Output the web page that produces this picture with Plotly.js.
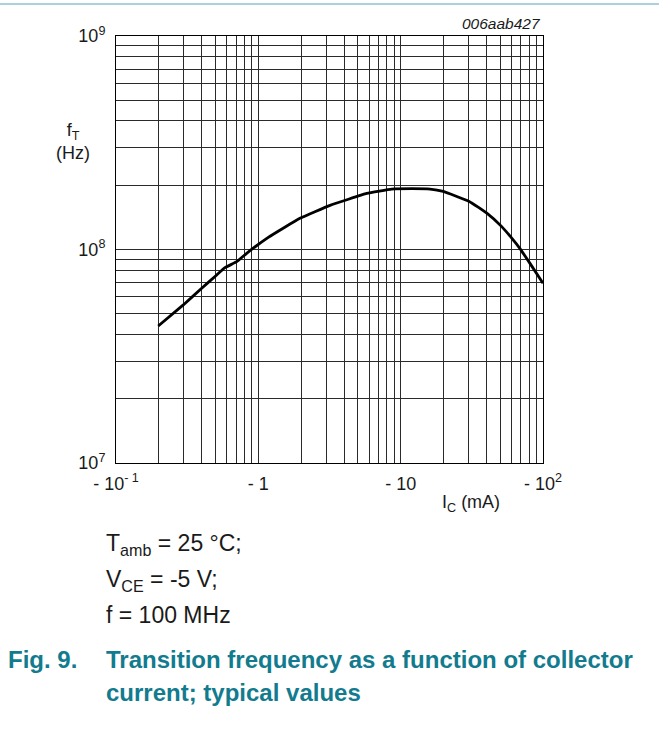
<!DOCTYPE html>
<html>
<head>
<meta charset="utf-8">
<script src="https://cdn.plot.ly/plotly-3.0.1.min.js"></script>
<style>
html,body{margin:0;padding:0;background:#fff;}
#chart{width:659px;height:756px;}
</style>
</head>
<body>
<div id="chart"></div>
<script>
// Data (collector current in mA, transition frequency in Hz)
const currentMA = [0.198, 0.297, 0.40, 0.51, 0.583, 0.705, 0.828, 1.175, 1.96, 3.19, 5.78, 8.65, 12.0, 16.1, 19.9, 30.3, 40.3, 51.3, 60.3, 68.9, 81.0, 100];
const fT_Hz     = [4.38e7, 5.50e7, 6.58e7, 7.60e7, 8.22e7, 8.77e7, 9.60e7, 1.14e8, 1.40e8, 1.61e8, 1.83e8, 1.92e8, 1.93e8, 1.92e8, 1.87e8, 1.68e8, 1.48e8, 1.28e8, 1.13e8, 1.01e8, 8.61e7, 6.95e7];

// Axis decades and their labels
const xDecades = [0.1, 1, 10, 100];
const xDecadeLabels = ['- 10<sup>- 1</sup>', '- 1', '- 10', '- 10<sup>2</sup>'];
const yDecades = [1e7, 1e8, 1e9];
const yDecadeLabels = ['10<sup>7</sup>', '10<sup>8</sup>', '10<sup>9</sup>'];

// Text content
const figId = '006aab427';
const yTitle = 'f<sub>T</sub><br>(Hz)';
const xTitle = 'I<sub>C</sub> (mA)';
const conditions = ['T<sub>amb</sub> = 25 °C;', 'V<sub>CE</sub> = -5 V;', 'f = 100 MHz'];
const figNumber = 'Fig. 9.';
const captionLines = ['Transition frequency as a function of collector', 'current; typical values'];

// Build tick sets (decades labelled, 2..9 unlabelled gridlines)
function buildTicks(decades, labels) {
  const vals = [], text = [];
  decades.forEach((d, i) => {
    vals.push(d); text.push(labels[i]);
    if (i < decades.length - 1) {
      for (let k = 2; k <= 9; k++) { vals.push(d * k); text.push(''); }
    }
  });
  return {vals, text};
}
const xt = buildTicks(xDecades, xDecadeLabels);
const yt = buildTicks(yDecades, yDecadeLabels);

const FONT = 'Liberation Sans, Arial, Helvetica, sans-serif';
const TEAL = '#127b8e';
const INK = '#1a1a1a';

// pixel -> paper helpers (plot area: left 116, right 543, top 36, bottom 463)
const L = 116, R = 543, T = 36, B = 463;
const px = x => (x - L) / (R - L);
const py = y => (B - y) / (B - T);

const annotations = [];
function ann(text, x, y, opts) {
  annotations.push(Object.assign({
    text, x: px(x), y: py(y), xref: 'paper', yref: 'paper',
    showarrow: false, xanchor: 'left', yanchor: 'middle',
    font: {family: FONT, size: 18, color: INK}
  }, opts || {}));
}
ann(figId, R, 24, {xanchor: 'right', font: {family: FONT, size: 15.5, color: INK, style: 'italic'}});
ann(yTitle, 73, 141, {xanchor: 'center'});
ann(xTitle, 471, 503, {xanchor: 'center'});
const condY = [544, 580, 615];
conditions.forEach((c, i) => ann(c, 104, condY[i], {font: {family: FONT, size: 23, color: INK}}));
ann('<b>' + figNumber + '</b>', 6, 659, {font: {family: FONT, size: 24, color: TEAL}});
const capY = [659, 692];
captionLines.forEach((c, i) => ann('<b>' + c + '</b>', 104, capY[i], {font: {family: FONT, size: 24, color: TEAL}}));

const trace = {
  x: currentMA, y: fT_Hz, type: 'scatter', mode: 'lines',
  line: {color: '#000', width: 2.8, shape: 'spline', smoothing: 0.3},
  hoverinfo: 'skip'
};

const axisCommon = {
  type: 'log', tickmode: 'array', showgrid: true, gridcolor: '#2a2a2a', gridwidth: 1,
  showline: true, linecolor: '#000', linewidth: 1, mirror: true, zeroline: false,
  ticks: '', tickfont: {family: FONT, size: 18, color: INK}, fixedrange: true
};

const layout = {
  width: 659, height: 756,
  margin: {l: L, r: 659 - R, t: T, b: 756 - B, pad: 0},
  paper_bgcolor: '#fff', plot_bgcolor: '#fff',
  showlegend: false,
  xaxis: Object.assign({}, axisCommon, {
    range: [Math.log10(xDecades[0]), Math.log10(xDecades[xDecades.length - 1])],
    tickvals: xt.vals, ticktext: xt.text, ticklabelstandoff: 4
  }),
  yaxis: Object.assign({}, axisCommon, {
    range: [Math.log10(yDecades[0]), Math.log10(yDecades[yDecades.length - 1])],
    tickvals: yt.vals, ticktext: yt.text, ticklabelstandoff: 6
  }),
  annotations,
  shapes: [{
    type: 'line', xref: 'paper', yref: 'paper',
    x0: px(0), x1: px(659), y0: py(4), y1: py(4),
    line: {color: '#a8d3da', width: 2}
  }]
};

Plotly.newPlot('chart', [trace], layout, {displayModeBar: false, staticPlot: true});
</script>
</body>
</html>
